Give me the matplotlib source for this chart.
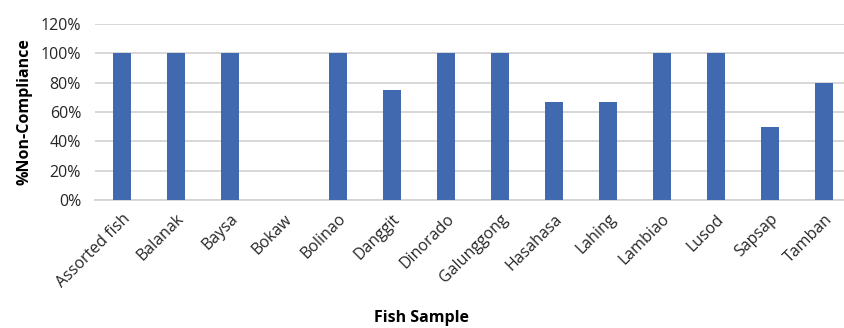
import matplotlib.pyplot as plt
from matplotlib.ticker import PercentFormatter

fish = ['Assorted fish', 'Balanak', 'Baysa', 'Bokaw', 'Bolinao', 'Danggit',
        'Dinorado', 'Galunggong', 'Hasahasa', 'Lahing', 'Lambiao', 'Lusod',
        'Sapsap', 'Tamban']
non_compliance = [100, 100, 100, 0, 100, 75, 100, 100, 67, 67, 100, 100, 50, 80]
y_ticks = [0, 20, 40, 60, 80, 100, 120]

plt.rcParams['font.family'] = ['Open Sans', 'DejaVu Sans']

fig = plt.figure(figsize=(8.44, 3.28), dpi=100)
ax = fig.add_axes([95 / 844, 1 - 200 / 328, 756 / 844, 176 / 328])

x = range(len(fish))
ax.bar(x, non_compliance, width=0.32, color='#4169b0', zorder=3)

ax.set_xlim(-0.5, len(fish) - 0.5)
ax.set_ylim(0, 120)
ax.set_yticks(y_ticks)
ax.yaxis.set_major_formatter(PercentFormatter(decimals=0))
ax.set_xticks(list(x))
ax.set_xticklabels(fish, rotation=45, ha='right', rotation_mode='anchor')

ax.grid(axis='y', color='#d4d4d4', linewidth=1.3, zorder=0)
for side in ['top', 'right', 'left']:
    ax.spines[side].set_visible(False)
ax.spines['bottom'].set_color('#d4d4d4')
ax.spines['bottom'].set_linewidth(1.3)
ax.tick_params(axis='both', length=0, labelsize=11.5, colors='#262626')
ax.tick_params(axis='x', pad=8)
ax.tick_params(axis='y', pad=10)

ax.set_ylabel('%Non-Compliance', fontsize=11.5, fontweight='bold', labelpad=6)
fig.text(0.5, 10 / 328, 'Fish Sample', ha='center', va='center',
         fontsize=11.5, fontweight='bold')

fig.savefig('out.png', dpi=100)
